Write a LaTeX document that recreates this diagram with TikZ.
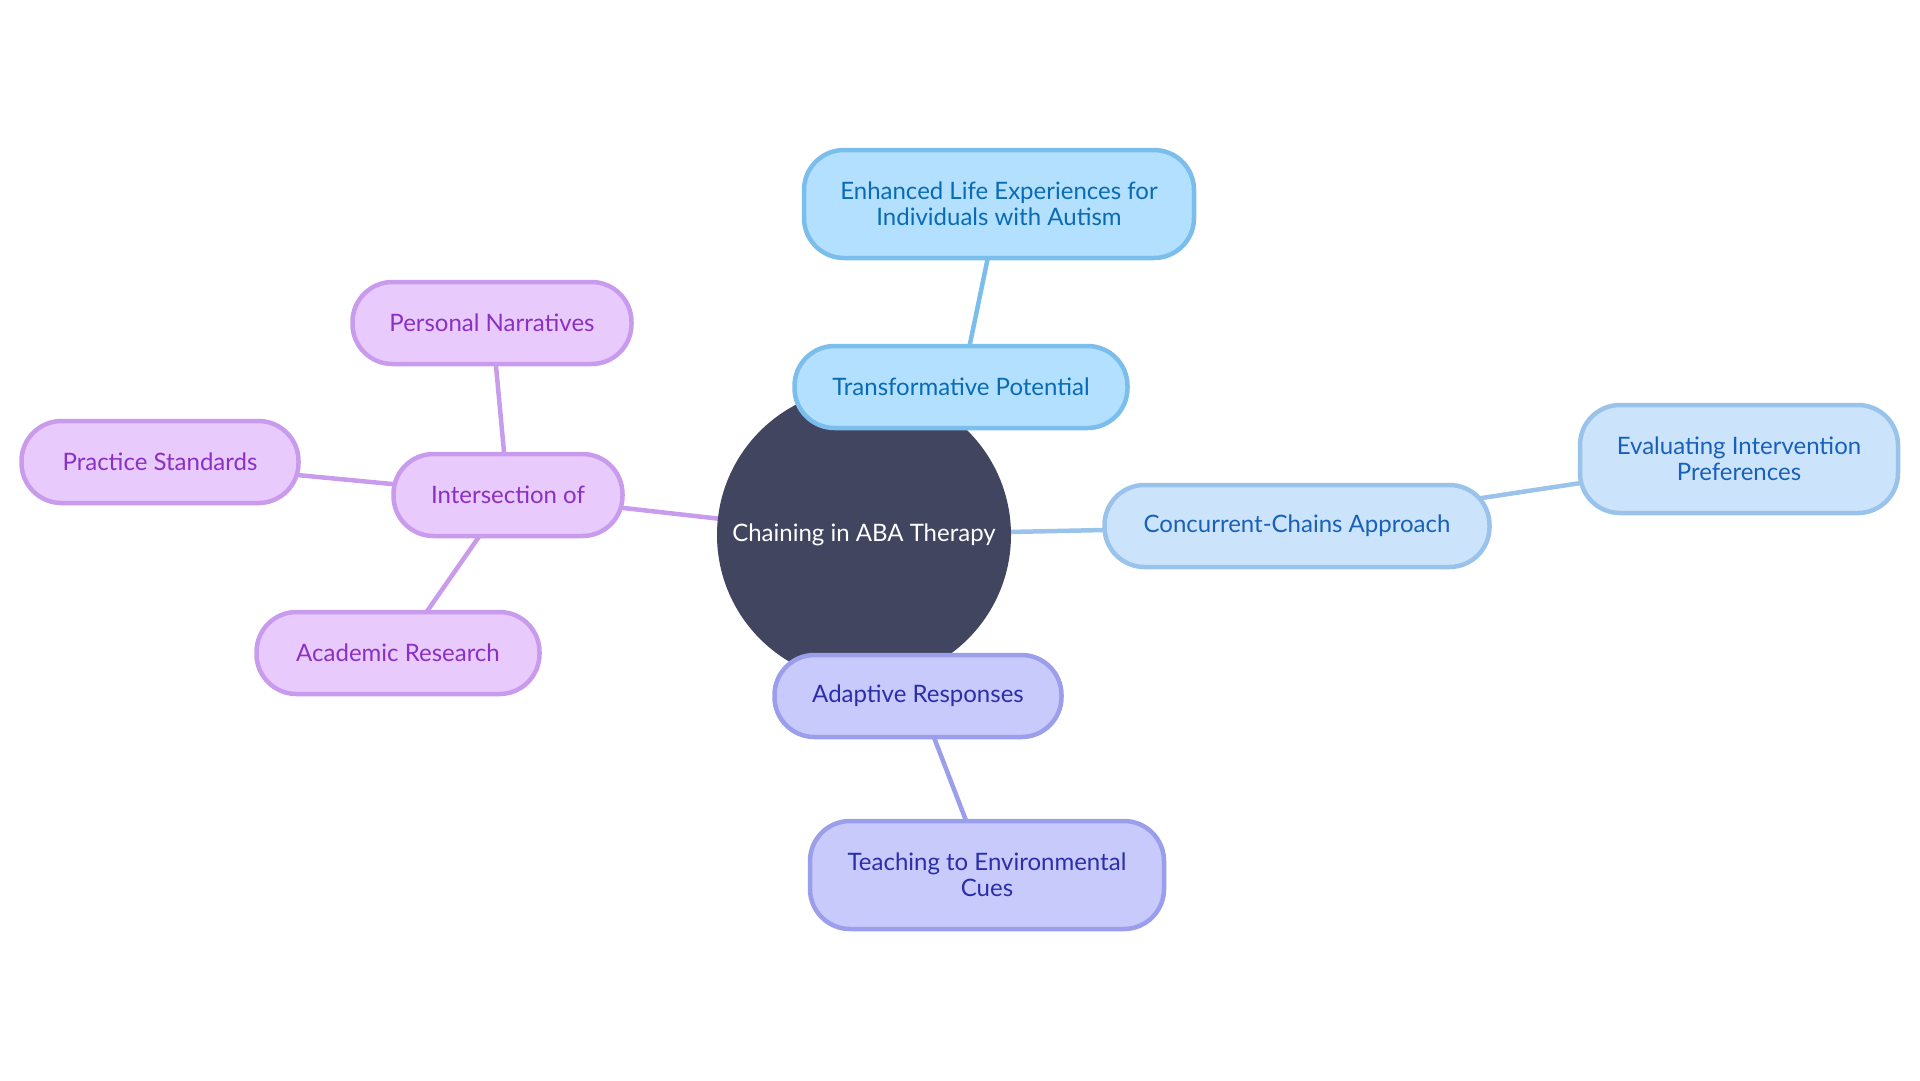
\documentclass[tikz,border=0pt]{standalone}
\usepackage{fontspec}
\setmainfont{Lato}
\usetikzlibrary{backgrounds}
\definecolor{fillA}{HTML}{B3E0FE}
\definecolor{drawA}{HTML}{7BBDEB}
\definecolor{textA}{HTML}{0A6BB5}
\definecolor{fillB}{HTML}{CCE4FB}
\definecolor{drawB}{HTML}{9AC3EB}
\definecolor{textB}{HTML}{1860B8}
\definecolor{fillC}{HTML}{C8CAFC}
\definecolor{drawC}{HTML}{9A9EEB}
\definecolor{textC}{HTML}{2B2EA8}
\definecolor{fillD}{HTML}{E8CAFD}
\definecolor{drawD}{HTML}{C99BEC}
\definecolor{textD}{HTML}{8A30C2}
\definecolor{hub}{HTML}{414560}
\begin{document}
\begin{tikzpicture}[x=1pt,y=-1pt,
  base/.style={rectangle, rounded corners=40pt, line width=4.5pt, align=center,
    font=\fontsize{24}{26}\selectfont, inner sep=0pt},
  boxA/.style={base, fill=fillA, draw=drawA, text=textA},
  boxB/.style={base, fill=fillB, draw=drawB, text=textB},
  boxC/.style={base, fill=fillC, draw=drawC, text=textC},
  boxD/.style={base, fill=fillD, draw=drawD, text=textD},
  linkA/.style={line width=4.5pt, draw=drawA},
  linkB/.style={line width=4.5pt, draw=drawB},
  linkC/.style={line width=4.5pt, draw=drawC},
  linkD/.style={line width=4.5pt, draw=drawD}
]
\useasboundingbox (0,0) rectangle (1920,1080);

\node[circle, fill=hub, minimum size=294pt, inner sep=0pt, text=white,
  font=\fontsize{24}{26}\selectfont] (hubnode) at (864,535) {Chaining in ABA Therapy};

\node[boxA, minimum width=390pt, minimum height=108pt] (enh) at (999,204) {Enhanced Life Experiences for\\Individuals with Autism};
\node[boxA, minimum width=333pt, minimum height=82pt] (trans) at (961,387) {Transformative Potential};

\node[boxB, minimum width=385pt, minimum height=82pt] (conc) at (1297,526) {Concurrent-Chains Approach};
\node[boxB, minimum width=318pt, minimum height=108pt] (eval) at (1739,459) {Evaluating Intervention\\Preferences};

\node[boxC, minimum width=287pt, minimum height=82pt] (adapt) at (918,696) {Adaptive Responses};
\node[boxC, minimum width=354pt, minimum height=108pt] (teach) at (987,875) {Teaching to Environmental\\Cues};

\node[boxD, minimum width=229pt, minimum height=82pt] (inter) at (508,495) {Intersection of};
\node[boxD, minimum width=279pt, minimum height=82pt] (pers) at (492,323) {Personal Narratives};
\node[boxD, minimum width=277pt, minimum height=82pt] (prac) at (160,462) {Practice Standards};
\node[boxD, minimum width=283pt, minimum height=82pt] (acad) at (398,653) {Academic Research};

\begin{pgfonlayer}{background}
\draw[linkA] (hubnode.center) -- (trans.center);
\draw[linkA] (trans.center) -- (enh.center);
\draw[linkB] (hubnode.center) -- (conc.center);
\draw[linkB] (conc.center) -- (eval.center);
\draw[linkC] (hubnode.center) -- (adapt.center);
\draw[linkC] (adapt.center) -- (teach.center);
\draw[linkD] (hubnode.center) -- (inter.center);
\draw[linkD] (inter.center) -- (pers.center);
\draw[linkD] (inter.center) -- (prac.center);
\draw[linkD] (inter.center) -- (acad.center);
\end{pgfonlayer}
\end{tikzpicture}
\end{document}
